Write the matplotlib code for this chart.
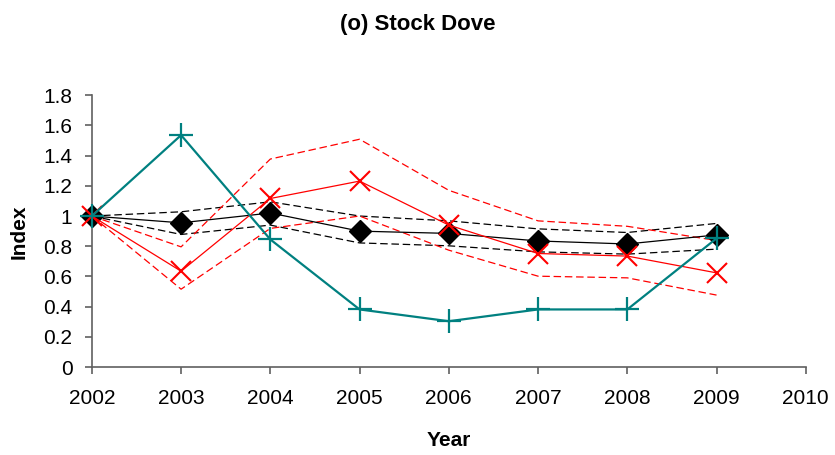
import numpy as np
import matplotlib.pyplot as plt

plt.rcParams['font.family'] = ['Liberation Sans', 'DejaVu Sans']

years = [2002, 2003, 2004, 2005, 2006, 2007, 2008, 2009]
tick_years = [2002, 2003, 2004, 2005, 2006, 2007, 2008, 2009, 2010]

# smoothed index with its confidence band (black)
trend = [1.0, 0.955, 1.02, 0.90, 0.885, 0.835, 0.815, 0.875]
trend_upper = [1.0, 1.028, 1.094, 1.0, 0.968, 0.915, 0.891, 0.951]
trend_lower = [1.0, 0.878, 0.94, 0.822, 0.803, 0.763, 0.748, 0.781]

# second survey index with its band (red)
survey = [1.0, 0.635, 1.116, 1.231, 0.94, 0.752, 0.735, 0.624]
survey_upper = [1.0, 0.796, 1.377, 1.508, 1.17, 0.968, 0.932, 0.838]
survey_lower = [1.0, 0.516, 0.918, 1.0, 0.774, 0.602, 0.591, 0.477]

# raw counts index (teal)
counts = [1.0, 1.535, 0.845, 0.382, 0.304, 0.382, 0.382, 0.852]

fig = plt.figure(figsize=(8.35, 4.55), dpi=100)
ax = fig.add_axes([0.110, 0.193, 0.855, 0.598])

dash = (0, (6, 3))
ax.plot(years, trend_upper, color='black', lw=0.9, ls=dash)
ax.plot(years, trend_lower, color='black', lw=0.9, ls=dash)
ax.plot(years, survey_upper, color='red', lw=0.9, ls=dash)
ax.plot(years, survey_lower, color='red', lw=0.9, ls=dash)

ax.plot(years, trend, color='black', lw=0.9, marker='D', ms=11,
        mfc='black', mec='black', zorder=4)
ax.plot(years, survey, color='red', lw=0.9, marker='x', ms=15,
        mew=1.5, zorder=5)
ax.plot(years, counts, color='#008080', lw=1.6, marker='+', ms=17,
        mew=1.6, zorder=6)

ax.set_xlim(2002, 2010)
ax.set_ylim(0, 1.8)
ax.set_xticks(tick_years)
ax.set_xticklabels([str(y) for y in tick_years])
ax.set_yticks(np.arange(0, 1.81, 0.2))
ax.set_yticklabels(['0', '0.2', '0.4', '0.6', '0.8', '1', '1.2', '1.4', '1.6', '1.8'])

for side in ['top', 'right']:
    ax.spines[side].set_visible(False)
for side in ['left', 'bottom']:
    ax.spines[side].set_color('#606060')
    ax.spines[side].set_linewidth(1.2)
ax.tick_params(axis='both', labelsize=15, length=5, width=1.2,
               color='#606060', direction='out')
ax.tick_params(axis='x', pad=11)
ax.tick_params(axis='y', pad=9)
for line in ax.lines:
    line.set_clip_on(False)

fig.text(0.023, 0.49, 'Index', rotation=90, ha='center', va='center',
         fontsize=15, fontweight='bold')
fig.text(0.537, 0.031, 'Year', ha='center', va='center',
         fontsize=15, fontweight='bold')
fig.text(0.5, 0.947, '(o) Stock Dove', ha='center', va='center',
         fontsize=16, fontweight='bold')

fig.savefig('out.png', dpi=100)
